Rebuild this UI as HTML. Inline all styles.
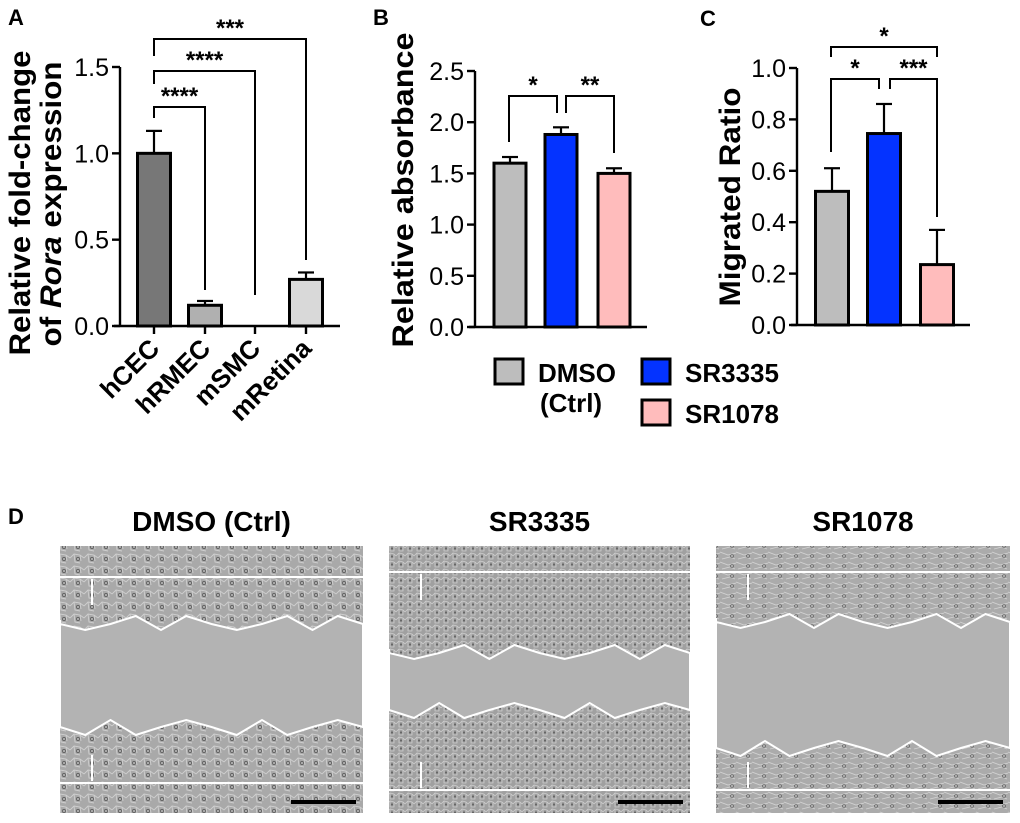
<!DOCTYPE html>
<html><head><meta charset="utf-8"><style>
html,body{margin:0;padding:0;background:#fff;}
svg text{font-family:"Liberation Sans",Arial,sans-serif;}
</style></head><body>
<svg id="fig" width="1020" height="818" viewBox="0 0 1020 818" xmlns="http://www.w3.org/2000/svg">
<defs>
<pattern id="cellsA" width="14" height="12" patternUnits="userSpaceOnUse">
<rect width="14" height="12" fill="#a9a9a9"/>
<path d="M0 6 L4 2 L10 3 L14 6 M4 2 L5 10 L10 11 M10 3 L11 9" stroke="#cfcfcf" stroke-width="0.9" fill="none"/>
<circle cx="8" cy="7" r="1.6" fill="none" stroke="#555" stroke-width="0.7"/>
</pattern>
<pattern id="cellsB" width="9" height="8" patternUnits="userSpaceOnUse">
<rect width="9" height="8" fill="#a0a0a0"/>
<path d="M0 4 L3 1 L7 2 L9 4 M3 1 L3 7 L7 7 L7 2" stroke="#cccccc" stroke-width="0.8" fill="none"/>
<circle cx="5" cy="4.5" r="1.1" fill="#666"/>
</pattern>
<pattern id="cellsC" width="16" height="10" patternUnits="userSpaceOnUse">
<rect width="16" height="10" fill="#ababab"/>
<path d="M0 2 L8 5 L16 3 M2 9 L10 7 L15 9" stroke="#d2d2d2" stroke-width="0.9" fill="none"/>
<circle cx="12" cy="6" r="1.5" fill="none" stroke="#555" stroke-width="0.6"/>
</pattern>
</defs>
<g id="panels"></g>
</svg>
<script>
// Panel A data
const aCats = ["hCEC","hRMEC","mSMC","mRetina"];
const aVals = [1.0, 0.12, 0.0, 0.27];
const aErrs = [0.13, 0.025, 0.0, 0.04];
const aTicks = ["0.0","0.5","1.0","1.5"];
const aColors = ["#777777","#b0b0b0","#ffffff","#d9d9d9"];
// Panel B data
const bCats = ["DMSO (Ctrl)","SR3335","SR1078"];
const bVals = [1.60, 1.88, 1.50];
const bErrs = [0.06, 0.07, 0.05];
const bTicks = ["0.0","0.5","1.0","1.5","2.0","2.5"];
// Panel C data
const cVals = [0.52, 0.745, 0.235];
const cErrs = [0.09, 0.115, 0.135];
const cTicks = ["0.0","0.2","0.4","0.6","0.8","1.0"];
const groupColors = ["#bdbdbd","#0433ff","#ffbcbc"];

const NS="http://www.w3.org/2000/svg";
const root=document.getElementById('panels');
function mk(tag,attrs,parent,txt){const e=document.createElementNS(NS,tag);for(const k in attrs)e.setAttribute(k,attrs[k]);if(txt!==undefined)e.textContent=txt;(parent||root).appendChild(e);return e;}
function line(x1,y1,x2,y2,p,w){return mk('line',{x1,y1,x2,y2,stroke:'#000','stroke-width':w||2.2},p);}

function axis(cfg){
  const g=mk('g',{});
  
  
  const y=v=>cfg.y0-(v/cfg.max)*(cfg.y0-cfg.yTop);
  line(cfg.x0,cfg.y0+1,cfg.x0,cfg.yTop,g,2.4);
  line(cfg.x0-6,cfg.y0,cfg.xEnd,cfg.y0,g,2.4);
  cfg.ticks.forEach((t,i)=>{
    const v=cfg.max*i/(cfg.ticks.length-1);
    line(cfg.x0-8,y(v),cfg.x0,y(v),g,2.4);
    const tx=mk('text',{x:cfg.x0-11,y:y(v)+9,'text-anchor':'end','font-size':25,fill:'#000'},g,t);
    
    
  });
  return y;
}
function bars(name,y,centers,vals,errs,colors,w){
  vals.forEach((v,i)=>{
    const cx=centers[i];
    if(errs[i]>0){
      const e=line(cx,y(v),cx,y(v+errs[i]),null,2.2);
      
      
      const c=line(cx-8,y(v+errs[i]),cx+8,y(v+errs[i]),null,2.2);
      
      
    }
    if(v>0){
      const r=mk('rect',{x:cx-w/2,y:y(v),width:w,height:y(0)-y(v),fill:colors[i],stroke:'#000','stroke-width':3});
      
      
    }
  });
}
function bracket(x1,x2,yb,l1,l2,label,name){
  const g=mk('g',{});
  
  
  mk('path',{d:`M${x1} ${l1} L${x1} ${yb} L${x2} ${yb} L${x2} ${l2}`,fill:'none',stroke:'#000','stroke-width':2},g);
  mk('text',{x:(x1+x2)/2,y:yb-3,'text-anchor':'middle','font-size':24,'font-weight':'bold',fill:'#000'},g,label);
}
function lbl(x,y,t,name,size){const e=mk('text',{x,y,'font-size':size||22,'font-weight':'bold',fill:'#000'},null,t);return e;}

// Panel letters
lbl(8,25,'A','panel-label-a');lbl(373,25,'B','panel-label-b');lbl(700,26,'C','panel-label-c');lbl(8,524,'D','panel-label-d');

// ---- Panel A
const yA=axis({name:'panel-a',x0:120,y0:326,yTop:67,max:1.5,xEnd:340,ticks:aTicks});
const aCenters=[154,205,255,306];
aCenters.forEach(cx=>line(cx,326,cx,334,null,2.4));
bars('panel-a',yA,aCenters,aVals,aErrs,aColors,33);
bracket(154,205,107,118,290,'****','panel-a-sig-hcec-hrmec');
bracket(154,255,71,84,295,'****','panel-a-sig-hcec-msmc');
bracket(154,306,39,56,260,'***','panel-a-sig-hcec-mretina');
aCats.forEach((c,i)=>{
  const t=mk('text',{x:aCenters[i]+7,y:350,'text-anchor':'end','font-size':26,'font-weight':'bold',fill:'#000',transform:`rotate(-45 ${aCenters[i]+7} 350)`},null,c);
  
  
});
{const t=mk('text',{x:0,y:0,'text-anchor':'middle','font-size':30,'font-weight':'bold',fill:'#000',transform:'translate(30 203) rotate(-90)',textLength:305,lengthAdjust:'spacingAndGlyphs'},null,'Relative fold-change');

const t2=mk('text',{x:0,y:0,'text-anchor':'middle','font-size':30,'font-weight':'bold',fill:'#000',transform:'translate(61 204) rotate(-90)',textLength:285,lengthAdjust:'spacingAndGlyphs'},null);

mk('tspan',{},t2,'of ');mk('tspan',{'font-style':'italic'},t2,'Rora');mk('tspan',{},t2,' expression');}

// ---- Panel B
const yB=axis({name:'panel-b',x0:475,y0:327,yTop:71,max:2.5,xEnd:647,ticks:bTicks});
const bCenters=[510,561,614];
bars('panel-b',yB,bCenters,bVals,bErrs,groupColors,32);
bracket(509,557,96,142,113,'*','panel-b-sig-dmso-sr3335');
bracket(566,614,96,113,153,'**','panel-b-sig-sr3335-sr1078');
{const t=mk('text',{x:0,y:0,'text-anchor':'middle','font-size':30,'font-weight':'bold',fill:'#000',transform:'translate(413 190) rotate(-90)',textLength:315,lengthAdjust:'spacingAndGlyphs'},null,'Relative absorbance');
}

// ---- Panel C
const yC=axis({name:'panel-c',x0:797,y0:325,yTop:68,max:1.0,xEnd:970,ticks:cTicks});
const cCenters=[832,884,937];
bars('panel-c',yC,cCenters,cVals,cErrs,groupColors,33);
bracket(831,937,47,57,57,'*','panel-c-sig-dmso-sr1078');
bracket(831,879,79,152,89,'*','panel-c-sig-dmso-sr3335');
bracket(890,937,79,89,217,'***','panel-c-sig-sr3335-sr1078');
{const t=mk('text',{x:0,y:0,'text-anchor':'middle','font-size':30,'font-weight':'bold',fill:'#000',transform:'translate(740 197) rotate(-90)',textLength:219,lengthAdjust:'spacingAndGlyphs'},null,'Migrated Ratio');
}

// ---- Legend
const leg=[[495,359,'DMSO',groupColors[0]],[642,359,'SR3335',groupColors[1]],[642,400,'SR1078',groupColors[2]]];
leg.forEach((l,i)=>{
  const g=mk('g',{});
  
  
  mk('rect',{x:l[0],y:l[1],width:28,height:25,fill:l[3],stroke:'#000','stroke-width':3},g);
  mk('text',{x:l[0]+43,y:l[1]+23,'font-size':26,'font-weight':'bold',fill:'#000'},g,l[2]);
});
lbl(540,412,'(Ctrl)','legend-ctrl-text',26);

// ---- Panel D micrographs
const imgs=[
 {x:60,w:303,top:577,bot:783,g1:620,g2:730,pat:'cellsA',title:'DMSO (Ctrl)',name:'micrograph-dmso'},
 {x:389,w:301,top:572,bot:790,g1:649,g2:713,pat:'cellsB',title:'SR3335',name:'micrograph-sr3335'},
 {x:716,w:294,top:572,bot:790,g1:618,g2:751,pat:'cellsC',title:'SR1078',name:'micrograph-sr1078'}];
imgs.forEach(m=>{
  const g=mk('g',{});
  
  
  mk('text',{x:m.x+m.w/2,y:531,'text-anchor':'middle','font-size':28,'font-weight':'bold',fill:'#000'},g,m.title);
  mk('rect',{x:m.x,y:546,width:m.w,height:267,fill:`url(#${m.pat})`},g);
  let d=`M${m.x} ${m.g1}`;
  for(let k=0;k<=12;k++){const xx=m.x+k*m.w/12;d+=` L${xx} ${m.g1+(k%3===1?10:k%2?-4:4)}`;}
  for(let k=12;k>=0;k--){const xx=m.x+k*m.w/12;d+=` L${xx} ${m.g2+(k%3===2?-10:k%2?5:-3)}`;}
  d+='Z';
  mk('path',{d,fill:'#b3b3b3',stroke:'#fff','stroke-width':2},g);
  line(m.x,m.top,m.x+m.w,m.top,g,2).setAttribute('stroke','#fff');
  line(m.x,m.bot,m.x+m.w,m.bot,g,2).setAttribute('stroke','#fff');
  line(m.x+32,m.top+2,m.x+32,m.top+28,g,2).setAttribute('stroke','#fff');
  line(m.x+32,m.bot-2,m.x+32,m.bot-28,g,2).setAttribute('stroke','#fff');
  const sb=mk('rect',{x:m.x+m.w-72,y:800,width:65,height:4,fill:'#000'},g);
  
  
});
</script>
</body></html>
